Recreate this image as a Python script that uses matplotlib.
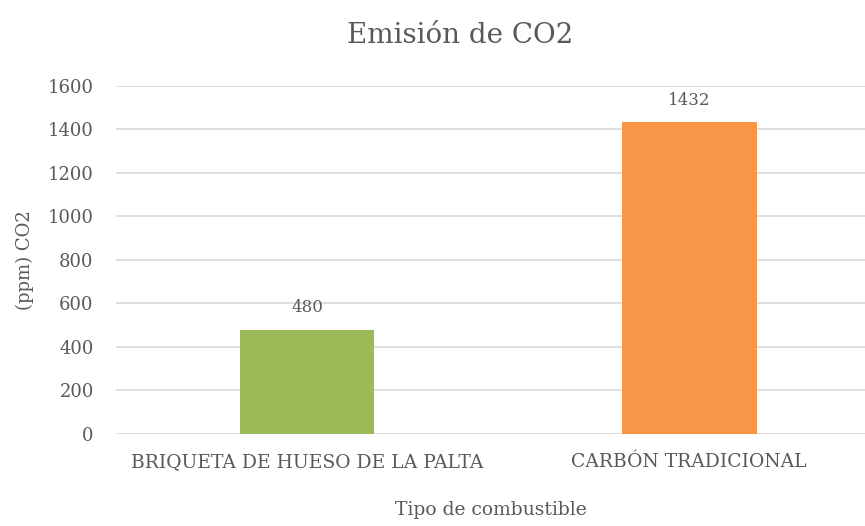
import matplotlib.pyplot as plt

categorias = ['BRIQUETA DE HUESO DE LA PALTA', 'CARBÓN TRADICIONAL']
emision = [480, 1432]
colores = ['#9BBB59', '#F79646']
yticks = [0, 200, 400, 600, 800, 1000, 1200, 1400, 1600]

gris = '#595959'
plt.rcParams['font.family'] = ['DejaVu Serif']

fig = plt.figure(figsize=(8.65, 5.26), dpi=100)
ax = fig.add_axes([0.134, 0.175, 0.866, 0.6616])

x = list(range(len(categorias)))
barras = ax.bar(x, emision, width=0.353, color=colores, zorder=3)
for b, v in zip(barras, emision):
    ax.annotate(str(v), (b.get_x() + b.get_width() / 2, v), xytext=(0, 10),
                textcoords='offset points', ha='center', va='bottom',
                fontsize=12, color=gris)

ax.set_xlim(-0.5, 1.46)
ax.set_ylim(0, 1600)
ax.set_yticks(yticks)
ax.set_xticks(x)
ax.set_xticklabels(categorias, fontsize=13.5)
ax.grid(axis='y', color='#D9D9D9', linewidth=1.2, zorder=0)
for s in ax.spines.values():
    s.set_visible(False)
ax.tick_params(axis='both', length=0, colors=gris)
ax.tick_params(axis='y', pad=16, labelsize=13)
ax.tick_params(axis='x', pad=14)

fig.text(0.532, 0.933, 'Emisión de CO2', fontsize=20, color=gris,
         ha='center', va='center')
ax.set_ylabel('(ppm) CO2', fontsize=13, color=gris, labelpad=10)
ax.set_xlabel('Tipo de combustible', fontsize=13.5, color=gris, labelpad=21)

fig.savefig('out.png', dpi=100)
